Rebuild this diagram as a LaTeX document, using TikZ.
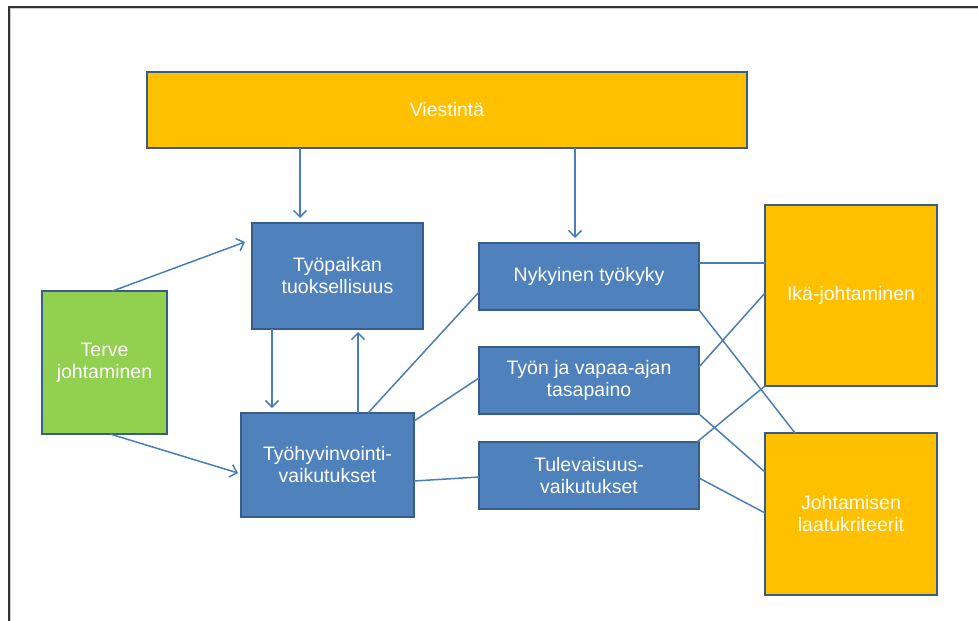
\documentclass[tikz,border=0pt]{standalone}
\usepackage{fontspec}
\setmainfont{Liberation Sans}
\usetikzlibrary{arrows.meta}
\definecolor{boxblue}{HTML}{4F81BD}
\definecolor{edgeblue}{HTML}{385D8A}
\definecolor{boxorange}{HTML}{FFC000}
\definecolor{boxgreen}{HTML}{92D050}
\definecolor{linkblue}{HTML}{4A7EBB}
\tikzset{
  basebox/.style={draw=edgeblue, line width=2.8pt, text=white, align=center, inner sep=2pt, outer sep=0pt,
    font=\fontsize{19.5}{22}\selectfont},
  bluebox/.style={basebox, fill=boxblue},
  orangebox/.style={basebox, fill=boxorange},
  greenbox/.style={basebox, fill=boxgreen},
  link/.style={draw=linkblue, line width=1.5pt},
  arr/.style={link, -{Straight Barb[length=6.5pt,width=13pt,line width=1.5pt]}},
}
\begin{document}
\begin{tikzpicture}[x=1pt,y=-1pt]
\useasboundingbox (0,0) rectangle (978,621);
\fill[white] (0,0) rectangle (978,621);
\draw[black!80, line width=1.6pt] (9,621) -- (9,7) -- (978,7);
\draw[black!20, line width=0.8pt] (10.8,621) -- (10.8,8.8) -- (978,8.8);

\node[orangebox, minimum width=600pt, minimum height=76pt] (vi) at (447,110) {Viestintä};
\node[bluebox, minimum width=171pt, minimum height=106pt] (tp) at (337.5,276) {Työpaikan\\tuoksellisuus};
\node[greenbox, minimum width=125pt, minimum height=143pt] (tj) at (104.5,362.5) {Terve\\johtaminen};
\node[bluebox, minimum width=173pt, minimum height=104pt] (th) at (327.5,465) {Työhyvinvointi-\\vaikutukset};
\node[bluebox, minimum width=220pt, minimum height=67pt] (ny) at (589,276.5) {Nykyinen työkyky};
\node[bluebox, minimum width=220pt, minimum height=67pt] (tv) at (589,380.5) {Työn ja vapaa-ajan\\tasapaino};
\node[bluebox, minimum width=220pt, minimum height=67pt] (tu) at (589,475.5) {Tulevaisuus-\\vaikutukset};
\node[orangebox, minimum width=172pt, minimum height=181pt] (ik) at (851,295.5) {Ikä-johtaminen};
\node[orangebox, minimum width=172pt, minimum height=162pt] (jl) at (851,514) {Johtamisen\\laatukriteerit};

% arrows from Viestintä
\draw[arr, shorten >=5pt] ([xshift=-147pt]vi.south) -- ([xshift=-37.5pt]tp.north);
\draw[arr, shorten >=5pt] ([xshift=128pt]vi.south) -- ([xshift=-14pt]ny.north);
% arrows from Terve johtaminen
\draw[arr] ([xshift=8pt]tj.north) -- ([xshift=-7pt,yshift=34pt]tp.west);
\draw[arr] ([xshift=5.5pt]tj.south) -- ([xshift=-3pt,yshift=-8pt]th.west);
% between Työpaikan and Työhyvinvointi
\draw[arr, shorten >=5pt] ([xshift=-65.5pt]tp.south) -- ([xshift=-55.5pt]th.north);
\draw[arr, shorten >=3pt] ([xshift=30.5pt]th.north) -- ([xshift=20.5pt]tp.south);
% plain links
\draw[link] ([xshift=40.5pt]th.north) -- ([yshift=-15.5pt]ny.west);
\draw[link] ([yshift=44pt]th.east) -- ([yshift=2.5pt]tv.west);
\draw[link] ([yshift=-16pt]th.east) -- ([yshift=-1.5pt]tu.west);
\draw[link] ([yshift=13.5pt]ny.east) -- ([yshift=32.5pt]ik.west);
\draw[link] ([yshift=13.5pt]tv.east) -- ([yshift=2.5pt]ik.west);
\draw[link] (ny.south east) -- ([xshift=30pt]jl.north west);
\draw[link] ([xshift=-2pt]tu.north east) -- (ik.south west);
\draw[link] (tv.south east) -- ([yshift=42pt]jl.west);
\draw[link] ([yshift=-2.5pt]tu.east) -- ([yshift=1pt]jl.west);
\end{tikzpicture}
\end{document}
